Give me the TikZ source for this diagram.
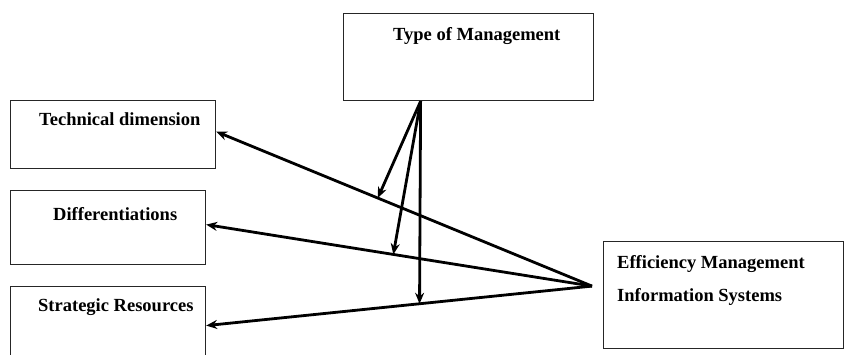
\documentclass[tikz,border=0pt]{standalone}
\usepackage{fontspec}
\setmainfont{Liberation Serif}
\usepackage{tikz}
\usetikzlibrary{arrows.meta, positioning, calc}

\begin{document}
\begin{tikzpicture}[x=1pt, y=-1pt, every node/.style={font=\bfseries\fontsize{18.5}{22}\selectfont}]
    \tikzstyle{box} = [rectangle, draw=black!85, line width=1.2pt, anchor=north west, inner sep=0pt]
    \tikzstyle{lbl} = [inner sep=0pt, align=left]
    \tikzstyle{link} = [line width=2.8pt, -{Stealth[length=11pt, width=9pt]}]

    \useasboundingbox (0,0) rectangle (844,354);

    % boxes
    \node[box, minimum width=250pt, minimum height=87pt] (type) at (343,13) {};
    \node[box, minimum width=205pt, minimum height=68pt] (tech) at (10,100) {};
    \node[box, minimum width=195pt, minimum height=74pt] (diff) at (10,190) {};
    \node[box, minimum width=195pt, minimum height=80pt] (strat) at (10,286) {};
    \node[box, minimum width=240pt, minimum height=107pt] (eff) at (603,241) {};

    % texts
    \node[lbl, below right=14pt and 50pt of type.north west] (typetxt) {Type of Management};
    \node[lbl, below right=12pt and 29pt of tech.north west] (techtxt) {Technical dimension};
    \node[lbl, below right=17pt and 43pt of diff.north west] (difftxt) {Differentiations};
    \node[lbl, below right=12pt and 28pt of strat.north west] (strattxt) {Strategic Resources};
    \node[lbl, below right=14pt and 14pt of eff.north west] (efftxt) {Efficiency Management\\[11pt]Information Systems};

    % end points
    \coordinate (hub) at ([xshift=-11pt, yshift=9pt]eff.west);
    \coordinate (src) at ([xshift=-48pt]type.south);
    \coordinate (techend) at ([yshift=3pt]tech.east);
    \coordinate (diffend) at ([yshift=3pt]diff.east);
    \coordinate (stratend) at ([yshift=1pt]strat.east);
    \coordinate (m1) at ($(hub)!0.57!(techend)$);
    \coordinate (m2) at ($(hub)!0.515!(diffend)$);
    \coordinate (m3) at ($(hub)!0.447!(stratend)$);

    % connectors
    \draw[link] (hub) -- (techend);
    \draw[link] (hub) -- (diffend);
    \draw[link] (hub) -- (stratend);
    \draw[link] (src) -- (m1);
    \draw[link] (src) -- (m2);
    \draw[link] (src) -- (m3);
\end{tikzpicture}
\end{document}
